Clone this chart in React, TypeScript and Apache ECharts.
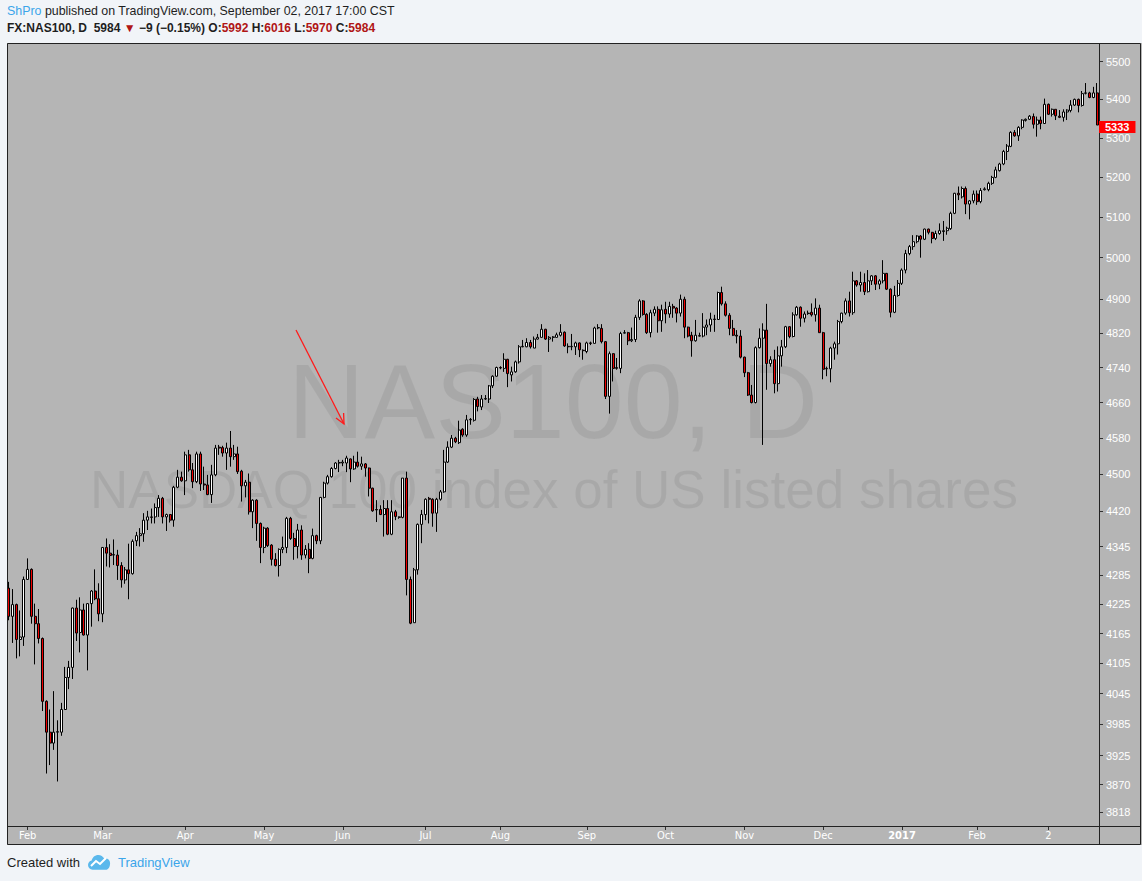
import React, { useEffect, useRef } from "react";
import * as echarts from "echarts";

// Each candle: [open, close, low, high]
const jan16 = [
  [4258, 4200, 4192, 4271], [4200, 4224, 4146, 4256], [4224, 4153, 4115, 4226], [4153, 4158, 4119, 4212], [4158, 4276, 4140, 4282],
];
const feb16 = [
  [4276, 4297, 4275, 4320], [4297, 4200, 4185, 4299], [4200, 4185, 4103, 4226], [4185, 4155, 4145, 4215], [4155, 4030, 4011, 4157],
  [4030, 3970, 3891, 4032], [3970, 3949, 3907, 4014], [3949, 3970, 3936, 4050], [3970, 3971, 3876, 3993], [3970, 4014, 3963, 4027],
  [4014, 4077, 4013, 4098], [4077, 4097, 4054, 4110], [4097, 4217, 4074, 4218], [4217, 4166, 4150, 4234], [4167, 4213, 4127, 4239],
  [4213, 4162, 4161, 4226], [4162, 4226, 4091, 4227], [4226, 4252, 4179, 4254], [4252, 4236, 4233, 4297], [4236, 4205, 4190, 4268],
];
const mar16 = [
  [4205, 4343, 4188, 4344], [4343, 4331, 4303, 4362], [4331, 4326, 4301, 4350], [4327, 4328, 4306, 4360], [4327, 4305, 4275, 4338],
  [4305, 4275, 4259, 4312], [4275, 4296, 4267, 4302], [4296, 4288, 4235, 4351], [4288, 4356, 4286, 4360], [4357, 4368, 4346, 4376],
  [4368, 4372, 4345, 4384], [4372, 4401, 4355, 4416], [4401, 4408, 4380, 4421], [4408, 4407, 4394, 4426], [4408, 4428, 4394, 4437],
  [4428, 4448, 4408, 4455], [4448, 4408, 4394, 4451], [4408, 4413, 4378, 4415], [4413, 4401, 4396, 4414], [4401, 4472, 4387, 4475],
  [4472, 4494, 4470, 4510], [4494, 4486, 4484, 4506],
];
const apr16 = [
  [4486, 4543, 4455, 4550], [4543, 4510, 4506, 4554], [4510, 4484, 4470, 4525], [4484, 4545, 4481, 4550], [4545, 4479, 4464, 4550],
  [4479, 4477, 4466, 4517], [4477, 4456, 4455, 4499], [4456, 4499, 4438, 4521], [4499, 4558, 4496, 4565], [4560, 4558, 4543, 4565],
  [4559, 4547, 4539, 4563], [4547, 4558, 4510, 4570], [4558, 4539, 4517, 4596], [4539, 4545, 4532, 4565], [4545, 4506, 4501, 4561],
  [4507, 4475, 4441, 4510], [4475, 4483, 4450, 4488], [4483, 4419, 4413, 4502], [4419, 4444, 4384, 4446], [4444, 4394, 4357, 4446],
  [4394, 4343, 4310, 4396],
];
const may16 = [
  [4343, 4384, 4331, 4387], [4384, 4347, 4344, 4386], [4348, 4318, 4305, 4350], [4318, 4305, 4303, 4331], [4305, 4339, 4282, 4341],
  [4339, 4343, 4331, 4366], [4343, 4405, 4331, 4408], [4405, 4362, 4359, 4408], [4362, 4345, 4317, 4374], [4345, 4380, 4320, 4393],
  [4380, 4327, 4317, 4390], [4327, 4339, 4320, 4348], [4339, 4320, 4289, 4352], [4320, 4368, 4318, 4383], [4368, 4357, 4350, 4370],
  [4357, 4450, 4350, 4451], [4450, 4481, 4448, 4484], [4481, 4495, 4478, 4499], [4495, 4513, 4493, 4516], [4513, 4525, 4511, 4527],
  [4525, 4526, 4505, 4532],
];
const jun16 = [
  [4525, 4527, 4518, 4532], [4525, 4536, 4505, 4541], [4534, 4512, 4483, 4535], [4512, 4527, 4510, 4541], [4527, 4518, 4515, 4550],
  [4518, 4523, 4510, 4539], [4523, 4514, 4495, 4525], [4514, 4470, 4452, 4515], [4470, 4421, 4419, 4471], [4424, 4423, 4397, 4444],
  [4424, 4413, 4412, 4433], [4413, 4426, 4366, 4444], [4426, 4371, 4369, 4444], [4371, 4419, 4369, 4444], [4419, 4409, 4401, 4423],
  [4408, 4407, 4404, 4409], [4407, 4492, 4405, 4492], [4492, 4276, 4243, 4506], [4276, 4186, 4184, 4282], [4187, 4296, 4187, 4300],
  [4296, 4392, 4286, 4394], [4392, 4413, 4352, 4423],
];
const jul16 = [
  [4413, 4446, 4401, 4448], [4448, 4446, 4394, 4451], [4446, 4416, 4387, 4448], [4416, 4446, 4376, 4449], [4446, 4462, 4443, 4466],
  [4462, 4527, 4460, 4554], [4527, 4560, 4525, 4573], [4560, 4580, 4558, 4587], [4580, 4572, 4569, 4583], [4570, 4598, 4567, 4619],
  [4600, 4587, 4583, 4602], [4587, 4621, 4583, 4632], [4621, 4622, 4610, 4625], [4620, 4667, 4617, 4670], [4668, 4651, 4640, 4673],
  [4650, 4668, 4643, 4677], [4668, 4669, 4666, 4677], [4668, 4698, 4659, 4700], [4698, 4720, 4693, 4722], [4720, 4740, 4719, 4742],
];
const aug16 = [
  [4740, 4739, 4736, 4743], [4738, 4759, 4730, 4773], [4759, 4726, 4695, 4760], [4723, 4730, 4708, 4742], [4730, 4753, 4728, 4756],
  [4753, 4788, 4749, 4792], [4788, 4789, 4787, 4804], [4788, 4798, 4787, 4808], [4798, 4788, 4784, 4804], [4785, 4806, 4785, 4812],
  [4806, 4810, 4805, 4818], [4810, 4829, 4810, 4841], [4829, 4806, 4804, 4830], [4806, 4810, 4776, 4813], [4810, 4811, 4800, 4813],
  [4810, 4816, 4810, 4821], [4815, 4822, 4812, 4841], [4822, 4790, 4788, 4824], [4789, 4788, 4773, 4796], [4788, 4789, 4780, 4818],
  [4788, 4797, 4769, 4800], [4797, 4781, 4764, 4798], [4780, 4779, 4758, 4782],
];
const sep16 = [
  [4777, 4797, 4773, 4800], [4797, 4796, 4792, 4800], [4796, 4832, 4796, 4835], [4832, 4833, 4829, 4841], [4831, 4800, 4796, 4841],
  [4800, 4674, 4668, 4801], [4674, 4772, 4635, 4777], [4772, 4738, 4708, 4773], [4738, 4740, 4735, 4762], [4738, 4819, 4727, 4823],
  [4820, 4821, 4819, 4827], [4821, 4802, 4792, 4823], [4802, 4805, 4799, 4833], [4805, 4857, 4799, 4863], [4857, 4896, 4851, 4900],
  [4896, 4864, 4861, 4898], [4864, 4821, 4818, 4867], [4821, 4868, 4810, 4875], [4867, 4876, 4860, 4883], [4876, 4849, 4821, 4883],
  [4849, 4875, 4823, 4887],
];
const oct16 = [
  [4876, 4865, 4843, 4894], [4865, 4883, 4856, 4894], [4883, 4879, 4856, 4889], [4879, 4867, 4845, 4881], [4867, 4900, 4859, 4911],
  [4900, 4834, 4808, 4906], [4834, 4813, 4810, 4835], [4815, 4802, 4765, 4823], [4802, 4815, 4800, 4851], [4814, 4813, 4812, 4821],
  [4813, 4834, 4810, 4867], [4834, 4839, 4815, 4852], [4839, 4853, 4823, 4868], [4853, 4852, 4823, 4863], [4852, 4916, 4851, 4918],
  [4916, 4889, 4885, 4930], [4889, 4862, 4859, 4895], [4862, 4831, 4815, 4867], [4831, 4815, 4813, 4851], [4815, 4813, 4796, 4827],
  [4813, 4764, 4761, 4827],
];
const nov16 = [
  [4764, 4728, 4718, 4765], [4728, 4677, 4675, 4730], [4677, 4660, 4658, 4700], [4660, 4786, 4658, 4789], [4786, 4808, 4784, 4831],
  [4808, 4827, 4565, 4843], [4827, 4749, 4689, 4889], [4749, 4758, 4742, 4766], [4758, 4703, 4681, 4781], [4703, 4767, 4685, 4789],
  [4767, 4788, 4742, 4804], [4788, 4835, 4785, 4837], [4835, 4812, 4808, 4836], [4812, 4863, 4810, 4869], [4863, 4881, 4861, 4884],
  [4881, 4855, 4835, 4883], [4855, 4865, 4845, 4871], [4866, 4867, 4863, 4873], [4869, 4863, 4859, 4890], [4863, 4879, 4847, 4902],
  [4879, 4821, 4821, 4887],
];
const dec16 = [
  [4821, 4736, 4713, 4823], [4737, 4738, 4720, 4742], [4737, 4785, 4706, 4788], [4785, 4795, 4758, 4800], [4795, 4847, 4770, 4851],
  [4847, 4867, 4843, 4868], [4867, 4896, 4863, 4902], [4896, 4868, 4859, 4918], [4868, 4944, 4863, 4966], [4944, 4934, 4930, 4946],
  [4934, 4940, 4918, 4966], [4940, 4918, 4910, 4962], [4918, 4944, 4916, 4970], [4944, 4956, 4934, 4958], [4956, 4936, 4922, 4958],
  [4936, 4944, 4924, 4948], [4944, 4962, 4938, 4994], [4962, 4924, 4922, 4963], [4924, 4869, 4857, 4926], [4869, 4909, 4867, 4932],
  [4909, 4938, 4906, 4946],
];
const jan17 = [
  [4938, 4970, 4934, 4974], [4970, 5010, 4962, 5019], [5010, 5027, 5006, 5031], [5027, 5039, 5019, 5055], [5039, 5053, 5035, 5055],
  [5053, 5045, 5000, 5055], [5045, 5070, 5043, 5071], [5070, 5062, 5057, 5071], [5062, 5047, 5035, 5063], [5047, 5059, 5043, 5066],
  [5059, 5066, 5056, 5084], [5064, 5066, 5041, 5090], [5066, 5072, 5056, 5076], [5071, 5109, 5068, 5113], [5109, 5159, 5107, 5160],
  [5159, 5155, 5142, 5176], [5150, 5171, 5146, 5176], [5171, 5132, 5107, 5176], [5132, 5140, 5094, 5142], [5140, 5157, 5134, 5166],
];
const feb17 = [
  [5157, 5138, 5130, 5166], [5138, 5166, 5134, 5172], [5168, 5170, 5166, 5174], [5168, 5184, 5164, 5188], [5184, 5199, 5180, 5203],
  [5199, 5218, 5197, 5226], [5216, 5233, 5214, 5236], [5233, 5265, 5230, 5269], [5265, 5279, 5243, 5284], [5278, 5314, 5276, 5317],
  [5314, 5305, 5303, 5320], [5305, 5327, 5292, 5330], [5327, 5346, 5322, 5348], [5345, 5348, 5342, 5350], [5348, 5356, 5346, 5359],
  [5355, 5335, 5324, 5363], [5335, 5346, 5303, 5355], [5346, 5337, 5322, 5355], [5337, 5387, 5336, 5402],
];
const mar17 = [
  [5387, 5361, 5359, 5389], [5361, 5374, 5355, 5376], [5374, 5357, 5346, 5374], [5356, 5353, 5351, 5372], [5353, 5367, 5342, 5374],
  [5367, 5372, 5346, 5374], [5371, 5385, 5366, 5398], [5385, 5400, 5383, 5402], [5400, 5384, 5366, 5402], [5384, 5415, 5381, 5422],
  [5416, 5417, 5413, 5443], [5417, 5405, 5403, 5420], [5405, 5417, 5403, 5433], [5417, 5333, 5333, 5443],
];

const monthBlocks = [jan16, feb16, mar16, apr16, may16, jun16, jul16, aug16, sep16, oct16, nov16, dec16, jan17, feb17, mar17];
const monthLabels = ["", "Feb", "Mar", "Apr", "May", "Jun", "Jul", "Aug", "Sep", "Oct", "Nov", "Dec", "2017", "Feb", "2"];
const priceTicks = [3818, 3870, 3925, 3985, 4045, 4105, 4165, 4225, 4285, 4345, 4420, 4500, 4580, 4660, 4740, 4820, 4900, 5000, 5100, 5200, 5300, 5400, 5500];
const axisMin = 3793;
const axisMax = 5550;

const logoPath =
  "M5 16 C2.2 16 0 13.8 0 11 C0 8.6 1.7 6.6 4 6.1 C4.6 2.6 7.6 0 11.2 0 C14 0 16.4 1.6 17.6 3.9 C18.1 3.8 18.6 3.7 19.2 3.7 C21.9 3.7 24 5.9 24 8.6 C24 12.6 22.6 16 19 16 Z";

export default function App() {
  const ref = useRef<HTMLDivElement>(null);
  useEffect(() => {
    if (!ref.current) return;
    try {
      echarts.graphic.registerShape("tvlogo", echarts.graphic.extendPath(logoPath, {}));
    } catch (e) {}
    const chart = echarts.init(ref.current, null, { renderer: "svg" });
    const candles = monthBlocks.flat();
    const categories = candles.map((_, i) => String(i));
    const labelAt: Record<number, string> = {};
    let pos = 0;
    monthBlocks.forEach((b, k) => {
      if (monthLabels[k]) labelAt[pos] = monthLabels[k];
      pos += b.length;
    });
    const logData = candles.map((c) => c.map((v) => Math.log(v)));
    const lastClose = candles[candles.length - 1][1];
    const tickLogs = priceTicks.map((v) => Math.log(v));
    const font = "'Liberation Sans', Arial, sans-serif";

    chart.setOption({
      animation: false,
      backgroundColor: "#f1f4f8",
      grid: { left: 7, right: 43, top: 43, bottom: 55 },
      xAxis: {
        type: "category",
        data: categories,
        boundaryGap: true,
        axisLine: { show: false },
        splitLine: { show: false },
        axisTick: {
          show: true,
          alignWithLabel: true,
          length: 4,
          interval: (i: number) => labelAt[i] !== undefined,
          lineStyle: { color: "#333" },
        },
        axisLabel: {
          interval: (i: number) => labelAt[i] !== undefined,
          formatter: (_v: string, i: number) => {
            const l = labelAt[i] || "";
            return /^\d{4}$/.test(l) ? "{y|" + l + "}" : l;
          },
          color: "#ffffff",
          fontSize: 11,
          fontFamily: "'Liberation Sans Narrow', 'DejaVu Sans Condensed', 'Liberation Sans', sans-serif",
          margin: 4,
          rich: { y: { color: "#ffffff", fontWeight: "bold", fontSize: 11 } },
        },
      },
      yAxis: {
        type: "value",
        position: "right",
        min: Math.log(axisMin),
        max: Math.log(axisMax),
        splitLine: { show: false },
        axisLine: { show: false },
        axisTick: { show: true, length: 4, customValues: tickLogs, lineStyle: { color: "#333" } },
        axisLabel: {
          customValues: tickLogs,
          formatter: (v: number) => String(Math.round(Math.exp(v))),
          color: "#ffffff",
          fontSize: 11,
          lineHeight: 11,
          fontFamily: font,
          margin: 7,
        },
      },
      series: [
        {
          type: "candlestick",
          data: logData,
          barWidth: 2.5,
          z: 3,
          itemStyle: {
            color: "#ffffff",
            color0: "#ee0000",
            borderColor: "#000000",
            borderColor0: "#000000",
            borderWidth: 1,
          },
          markLine: {
            silent: true,
            symbol: "none",
            z: 30,
            data: [{ yAxis: Math.log(lastClose) }],
            lineStyle: { color: "rgba(0,0,0,0)", width: 0 },
            label: {
              show: true,
              position: "end",
              distance: 0,
              formatter: () => String(lastClose),
              backgroundColor: "#ff0000",
              color: "#ffffff",
              fontWeight: "bold",
              fontSize: 11,
              lineHeight: 11,
              fontFamily: font,
              padding: [1, 6, 0, 6],
              offset: [0, -1.5],
            },
          },
        },
      ],
      graphic: [
        { type: "rect", z: -5, silent: true, shape: { x: 7, y: 43, width: 1135, height: 802 }, style: { fill: "#b5b5b5" } },
        {
          type: "text", z: 1, silent: true, x: 553, y: 401,
          style: { text: "NAS100, D", fill: "rgba(0,0,0,0.065)", fontSize: 106, fontFamily: font, textAlign: "center", textVerticalAlign: "middle" },
        },
        {
          type: "text", z: 1, silent: true, x: 554, y: 489,
          style: { text: "NASDAQ 100 index of US listed shares", fill: "rgba(0,0,0,0.065)", fontSize: 53, fontFamily: font, textAlign: "center", textVerticalAlign: "middle" },
        },
        { type: "line", z: 6, silent: true, shape: { x1: 296, y1: 330, x2: 344, y2: 424 }, style: { stroke: "#ff1a1a", lineWidth: 1.3 } },
        { type: "polyline", z: 6, silent: true, shape: { points: [[336, 418], [344, 424], [343.6, 413]] }, style: { stroke: "#ff1a1a", lineWidth: 1.3, fill: "none" } },
        { type: "rect", z: 20, silent: true, shape: { x: 7.5, y: 43.5, width: 1133, height: 801 }, style: { fill: "none", stroke: "#222", lineWidth: 1 } },
        { type: "line", z: 20, silent: true, shape: { x1: 1099.5, y1: 43, x2: 1099.5, y2: 845 }, style: { stroke: "#222", lineWidth: 1 } },
        { type: "line", z: 20, silent: true, shape: { x1: 7, y1: 826.5, x2: 1141, y2: 826.5 }, style: { stroke: "#222", lineWidth: 1 } },
        {
          type: "text", z: 20, silent: true, left: 7, top: 5,
          style: {
            text: "{a|ShPro} {b|published on TradingView.com, September 02, 2017 17:00 CST}",
            fontSize: 12.4, fontFamily: font,
            rich: {
              a: { fill: "#3ba5ea", fontSize: 12.4, fontFamily: font },
              b: { fill: "#1e1e1e", fontSize: 12.4, fontFamily: font },
            },
          },
        },
        {
          type: "text", z: 20, silent: true, left: 7, top: 22,
          style: {
            text: "{k|FX:NAS100, D  5984 }{r|▼}{k| −9 (−0.15%) O:}{r|5992}{k| H:}{r|6016}{k| L:}{r|5970}{k| C:}{r|5984}",
            fontSize: 12, fontFamily: font,
            rich: {
              k: { fill: "#1e1e1e", fontSize: 12, fontWeight: "bold", fontFamily: font },
              r: { fill: "#b01515", fontSize: 12, fontWeight: "bold", fontFamily: font },
            },
          },
        },
        {
          type: "text", z: 20, silent: true, left: 7, top: 856,
          style: { text: "Created with", fill: "#1e1e1e", fontSize: 13, fontFamily: font },
        },
        { type: "tvlogo", z: 20, silent: true, x: 88, y: 855, scaleX: 0.92, scaleY: 0.92, style: { fill: "#5bb8ec" } },
        { type: "polyline", z: 21, silent: true, shape: { points: [[91, 866], [96, 861], [100, 864], [106, 858]] }, style: { stroke: "#ffffff", lineWidth: 2, fill: "none" } },
        {
          type: "text", z: 20, silent: true, left: 118, top: 856,
          style: { text: "TradingView", fill: "#3ba5ea", fontSize: 13, fontFamily: font },
        },
      ],
    });
    return () => chart.dispose();
  }, []);
  return <div ref={ref} style={{ position: "fixed", left: 0, top: 0, width: 1142, height: 881 }} />;
}
